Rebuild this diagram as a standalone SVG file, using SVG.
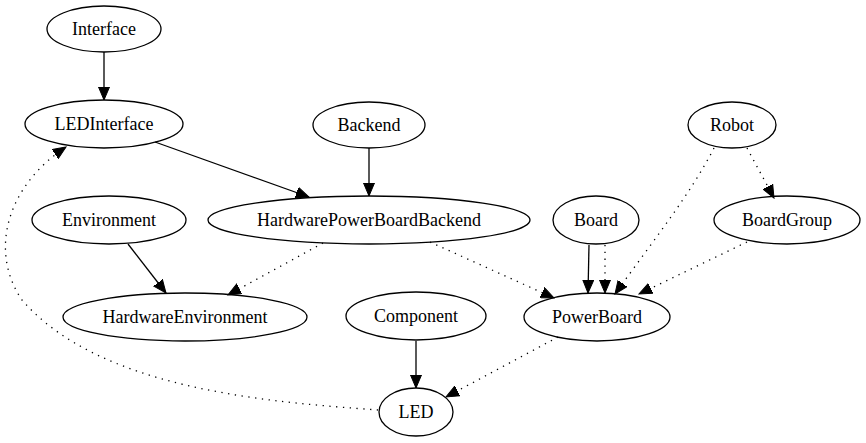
<svg xmlns="http://www.w3.org/2000/svg" width="866" height="443" viewBox="0 0 866 443">
<style>
.n ellipse{fill:none;stroke:#000;stroke-width:1.3}
.n text{font-size:18px;text-anchor:middle;fill:#000}
.e path{fill:none;stroke:#000;stroke-width:1.3;marker-end:url(#ah)}
.e path.d{stroke-dasharray:1.3,5.5}
</style>
<defs>
<marker id="ah" markerUnits="userSpaceOnUse" markerWidth="14" markerHeight="12" refX="13" refY="5.5" orient="auto" viewBox="0 0 14 11">
<polygon points="0,0 13,5.5 0,11" fill="#000" stroke="#000" stroke-width="1"/>
</marker>
</defs>
<rect width="866" height="443" fill="#fff"/>
<g class="e" id="edges">
<path d="M104,52 L104,100"/>
<path d="M155,142 L309,197"/>
<path d="M369,148 L369,196"/>
<path d="M128,244 L166,293"/>
<path class="d" d="M323,243 L228,295"/>
<path class="d" d="M430,242 L554,298"/>
<path d="M589,245 L588,293"/>
<path class="d" d="M605,245 L605,293"/>
<path class="d" d="M714,148 C690,195 650,245 615,294"/>
<path class="d" d="M747,148 L774,198"/>
<path class="d" d="M747,242 L639,294"/>
<path d="M416,341 L416,388"/>
<path class="d" d="M558,337 L446,397"/>
<path class="d" d="M378,410 C270,402 100,390 22,300 C-12,250 8,185 66,147"/>
</g>
<g class="n" font-family="Liberation Serif, Times New Roman, serif">
<g id="Interface"><ellipse cx="104" cy="29" rx="57" ry="23"/><text x="104" y="35">Interface</text></g>
<g id="LEDInterface"><ellipse cx="104" cy="124" rx="79" ry="24"/><text x="104" y="130">LEDInterface</text></g>
<g id="Backend"><ellipse cx="369" cy="125" rx="56" ry="23"/><text x="369" y="131">Backend</text></g>
<g id="Robot"><ellipse cx="732" cy="125" rx="44" ry="23"/><text x="732" y="131">Robot</text></g>
<g id="Environment"><ellipse cx="109" cy="220" rx="77" ry="24"/><text x="109" y="226">Environment</text></g>
<g id="HardwarePowerBoardBackend"><ellipse cx="369" cy="220" rx="161" ry="24"/><text x="369" y="226">HardwarePowerBoardBackend</text></g>
<g id="Board"><ellipse cx="596" cy="220" rx="43" ry="24"/><text x="596" y="226">Board</text></g>
<g id="BoardGroup"><ellipse cx="787" cy="220" rx="73" ry="24"/><text x="787" y="226">BoardGroup</text></g>
<g id="HardwareEnvironment"><ellipse cx="185" cy="317" rx="122" ry="24"/><text x="185" y="323">HardwareEnvironment</text></g>
<g id="Component"><ellipse cx="416" cy="316" rx="70" ry="24"/><text x="416" y="322">Component</text></g>
<g id="PowerBoard"><ellipse cx="597" cy="317" rx="73" ry="24"/><text x="597" y="323">PowerBoard</text></g>
<g id="LED"><ellipse cx="416" cy="412" rx="37" ry="24"/><text x="416" y="418">LED</text></g>
</g>
</svg>
